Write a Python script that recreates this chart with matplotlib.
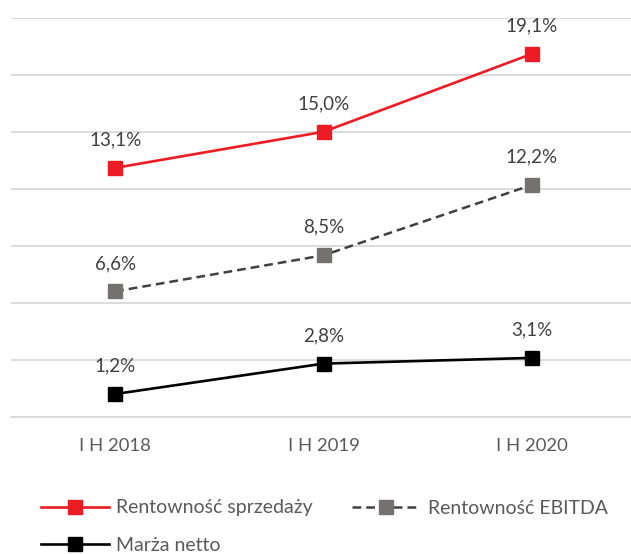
import matplotlib
matplotlib.use("Agg")
import matplotlib.pyplot as plt

plt.rcParams['font.family'] = ['Lato', 'DejaVu Sans']

categories = ["I H 2018", "I H 2019", "I H 2020"]
sprzedaz = [13.1, 15.0, 19.1]
ebitda = [6.6, 8.5, 12.2]
netto = [1.2, 2.8, 3.1]

fig = plt.figure(figsize=(6.31, 5.54), dpi=100)
ax = fig.add_axes([11/631, 1 - 416.8/554, 625/631, 399/554])

x = list(range(len(categories)))
l1, = ax.plot(x, sprzedaz, color="#ED1C24", lw=1.9, marker="s", ms=10,
              mfc="#ED1C24", mec="#ED1C24", label="Rentowność sprzedaży", zorder=3)
l2, = ax.plot(x, ebitda, color="#404040", lw=1.8, ls=(0, (3.5, 2)), marker="s", ms=10,
              mfc="#767171", mec="#767171", label="Rentowność EBITDA", zorder=3)
l3, = ax.plot(x, netto, color="#000000", lw=1.9, marker="s", ms=10,
              mfc="#000000", mec="#000000", label="Marża netto", zorder=3)

for series in (sprzedaz, ebitda, netto):
    for xi, v in zip(x, series):
        ax.annotate(f"{v:.1f}%".replace(".", ","), (xi, v), xytext=(0, 14),
                    textcoords="offset points", ha="center", va="bottom",
                    fontsize=13.5, color="#404040")

ax.set_xlim(-0.5, 2.5)
ax.set_ylim(0, 21)
ax.set_yticks(range(0, 22, 3))
ax.yaxis.grid(True, color="#D9D9D9", lw=1.3)
ax.set_axisbelow(True)
ax.tick_params(axis="y", left=False, labelleft=False)
ax.set_xticks(x)
ax.set_xticklabels(categories, fontsize=13.3, color="#595959")
ax.tick_params(axis="x", length=0, pad=15)
for s in ("top", "right", "left"):
    ax.spines[s].set_visible(False)
ax.spines["bottom"].set_color("#D9D9D9")
ax.spines["bottom"].set_linewidth(1.3)

fig.legend(handles=[l1, l3, l2], ncol=2, loc="upper left",
           bbox_to_anchor=(23/631, 1 - 482/554), frameon=False,
           fontsize=14, handlelength=3.5, handletextpad=0.4,
           columnspacing=2.0, labelspacing=1.06, labelcolor="#595959")

fig.savefig("out.png", dpi=100)
